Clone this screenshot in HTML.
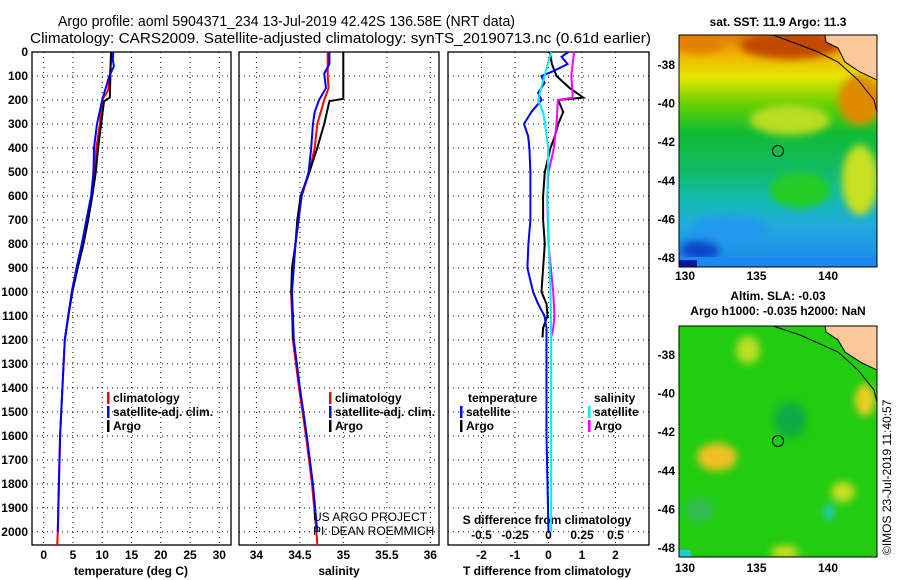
<!DOCTYPE html>
<html><head><meta charset="utf-8"><style>
body{margin:0;background:#fff;}
svg{display:block;font-family:"Liberation Sans",sans-serif;}
.tk{font-size:12px;font-weight:bold;fill:#000;}
</style></head><body>
<svg id="chart" width="900" height="580" viewBox="0 0 900 580">
<defs>
<linearGradient id="sstg" x1="0" y1="0" x2="0" y2="1">
<stop offset="0" stop-color="#e07a00"/><stop offset="0.08" stop-color="#f0b000"/><stop offset="0.18" stop-color="#e6e600"/>
<stop offset="0.3" stop-color="#66d000"/><stop offset="0.42" stop-color="#11bb33"/><stop offset="0.58" stop-color="#11bb66"/>
<stop offset="0.7" stop-color="#11bbaa"/><stop offset="0.82" stop-color="#22aadd"/><stop offset="1" stop-color="#1a88ee"/>
</linearGradient>
<filter id="blur"><feGaussianBlur stdDeviation="4"/></filter>
<clipPath id="c1"><rect x="679" y="35" width="198" height="232"/></clipPath>
<clipPath id="c2"><rect x="679" y="326" width="198" height="231"/></clipPath>
</defs>
<g id="titles">
<text x="58" y="26" font-size="15" textLength="457" lengthAdjust="spacingAndGlyphs">Argo profile: aoml 5904371_234 13-Jul-2019 42.42S 136.58E (NRT data)</text>
<text x="30" y="43" font-size="15" textLength="621" lengthAdjust="spacingAndGlyphs">Climatology: CARS2009. Satellite-adjusted climatology: synTS_20190713.nc (0.61d earlier)</text>
</g>
<g id="panels"></g>
<g id="maps">
<text x="778" y="26" font-size="12" font-weight="bold" text-anchor="middle">sat. SST: 11.9 Argo: 11.3</text>
<g clip-path="url(#c1)">
<rect x="679" y="35" width="198" height="232" fill="url(#sstg)"/>
<g filter="url(#blur)">
<ellipse cx="790" cy="45" rx="50" ry="14" fill="#c04800"/>
<ellipse cx="700" cy="45" rx="25" ry="8" fill="#e08000"/>
<ellipse cx="860" cy="100" rx="22" ry="25" fill="#e08a00"/>
<ellipse cx="860" cy="180" rx="18" ry="35" fill="#c8e020"/>
<ellipse cx="790" cy="120" rx="40" ry="15" fill="#bbdd22"/>
<ellipse cx="800" cy="190" rx="30" ry="18" fill="#22cc22"/>
<ellipse cx="700" cy="250" rx="20" ry="10" fill="#0a44cc"/>
<ellipse cx="730" cy="230" rx="40" ry="14" fill="#2299ee"/>
</g>
<rect x="679" y="257" width="198" height="10" fill="#1a88ee"/>
<rect x="679" y="260" width="18" height="7" fill="#001a99"/>
<polygon points="825,35 877,35 877,80 860,72 845,62 838,48 826,42" fill="#fbc898" stroke="#000" stroke-width="1"/>
<polyline points="773,35 800,45 818,52 838,62 858,80 874,100 877,112" fill="none" stroke="#000" stroke-width="1"/>
<circle cx="778" cy="151" r="5.5" fill="none" stroke="#000"/>
</g>
<rect x="679" y="35" width="198" height="232" fill="none" stroke="#000"/>
<text x="778" y="300" font-size="12" font-weight="bold" text-anchor="middle">Altim. SLA: -0.03</text>
<text x="778" y="315" font-size="12" font-weight="bold" text-anchor="middle">Argo h1000: -0.035 h2000: NaN</text>
<g clip-path="url(#c2)">
<rect x="679" y="326" width="198" height="231" fill="#22cc11"/>
<g filter="url(#blur)">
<ellipse cx="717" cy="457" rx="20" ry="14" fill="#f0c020"/>
<ellipse cx="748" cy="350" rx="12" ry="14" fill="#bbdd22"/>
<ellipse cx="865" cy="400" rx="10" ry="16" fill="#eecc22"/>
<ellipse cx="843" cy="492" rx="12" ry="10" fill="#ccdd22"/>
<ellipse cx="829" cy="512" rx="5" ry="8" fill="#22cccc"/>
<ellipse cx="785" cy="552" rx="14" ry="6" fill="#dddd22"/>
<ellipse cx="700" cy="510" rx="14" ry="12" fill="#33bb55"/>
<ellipse cx="790" cy="420" rx="16" ry="18" fill="#11aa44"/>
</g>
<rect x="679" y="550" width="12" height="7" fill="#22cccc"/>
<polygon points="825,326 877,326 877,370 862,363 845,352 838,340 826,332" fill="#fbc898" stroke="#000" stroke-width="1"/>
<polyline points="773,326 800,335 818,343 838,352 858,370 874,390 877,402" fill="none" stroke="#000" stroke-width="1"/>
<circle cx="778" cy="441" r="5.5" fill="none" stroke="#000"/>
</g>
<rect x="679" y="326" width="198" height="231" fill="none" stroke="#000"/>
<text transform="translate(891,555) rotate(-90)" font-size="12">©IMOS 23-Jul-2019 11:40:57</text>
</g>
</svg>
<script>
// ---- data ----
const depthTicks=[0,100,200,300,400,500,600,700,800,900,1000,1100,1200,1300,1400,1500,1600,1700,1800,1900,2000];
const tempTicks=[0,5,10,15,20,25,30];
const salTicks=[34,34.5,35,35.5,36];
const salTickLabels=["34","34.5","35","35.5","36"];
const tdiffTicks=[-2,-1,0,1,2];
const sdiffTickLabels=["-0.5","-0.25","0","0.25","0.5"];
const latTicks=[-38,-40,-42,-44,-46,-48];
const lonTicks=[130,135,140];

const tArgoDepth=[0,100,190,205,300,400,500,600,700,800,900,1000,1100,1200];
const tArgoVal=[11.5,11.4,11.3,10.3,9.8,9.3,8.9,8.3,7.6,6.8,5.8,4.9,4.2,3.6];
const tClimDepth=[0,100,160,200,300,400,500,600,700,800,900,1000,1200,1400,1600,1800,2000,2055];
const tClimVal=[11.6,11.3,11.0,10.0,9.6,9.0,8.7,8.2,7.4,6.6,5.7,4.8,3.6,3.2,2.8,2.6,2.4,2.3];
const tSatDepth=[0,30,60,100,150,200,300,400,500,600,700,800,900,1000,1200,1400,1600,1800,2000];
const tSatVal=[11.9,11.8,12.0,11.2,10.6,10.0,9.1,8.6,8.5,8.1,7.3,6.5,5.6,4.8,3.6,3.2,2.8,2.6,2.4];

const sArgoDepth=[0,195,205,300,350,400,500,600,700,800,900,1000,1100,1200];
const sArgoVal=[35.0,35.0,34.84,34.78,34.74,34.70,34.61,34.51,34.47,34.45,34.41,34.40,34.42,34.42];
const sClimDepth=[0,100,150,200,300,400,500,600,800,1000,1200,1400,1600,1800,2000,2055];
const sClimVal=[34.82,34.82,34.83,34.78,34.70,34.67,34.61,34.52,34.45,34.40,34.42,34.49,34.57,34.64,34.69,34.70];
const sSatDepth=[0,50,90,150,200,250,300,400,500,600,800,1000,1200,1400,1600,1800,2000];
const sSatVal=[34.84,34.84,34.78,34.80,34.72,34.67,34.65,34.63,34.60,34.52,34.45,34.41,34.43,34.50,34.58,34.65,34.70];

const dtSatDepth=[0,20,50,80,100,130,170,200,250,300,350,400,500,700,800,900,1000,1050,1100,1150,1200,1400,1600,1800,2000];
const dtSatVal=[0.59,0.39,0.57,0.14,-0.21,-0.12,-0.31,-0.21,-0.51,-0.73,-0.61,-0.57,-0.54,-0.54,-0.60,-0.63,-0.46,-0.31,-0.12,-0.06,-0.06,-0.06,-0.06,-0.03,0.0];
const dtArgoDepth=[0,50,100,150,190,200,250,300,350,400,500,600,700,800,900,1000,1050,1100,1150,1190];
const dtArgoVal=[0.04,0.1,0.24,0.63,1.04,0.29,0.44,0.29,0.19,0.06,-0.11,-0.16,-0.16,-0.11,-0.16,-0.21,-0.06,-0.03,-0.16,-0.18];
const dsSatDepth=[0,50,100,150,200,250,300,400,600,800,1000,1200,1400,1600,1800,2000];
const dsSatVal=[0.02,-0.005,-0.03,-0.055,-0.078,-0.04,-0.025,-0.002,-0.008,0.002,0.015,0.02,0.02,0.02,0.02,0.02];
const dsArgoDepth=[0,100,170,190,200,300,400,500,600,800,1000,1100,1150,1190];
const dsArgoVal=[0.19,0.17,0.18,0.18,0.07,0.06,0.04,0.0,-0.01,0.0,0.035,0.045,0.035,0.02];

// ---- layout ----
const svg=document.getElementById('chart');
const G=document.getElementById('panels');
const NS='http://www.w3.org/2000/svg';
const yTop=52,yBot=545,dMax=2055;
const yS=d=>yTop+(d/dMax)*(yBot-yTop);
function mk(tag,attrs,parent){const e=document.createElementNS(NS,tag);for(const k in attrs)e.setAttribute(k,attrs[k]);(parent||G).appendChild(e);return e;}
const panels=[
 {x0:32,x1:231,lo:-2,hi:32,name:'temperature-panel'},
 {x0:239,x1:439,lo:33.8,hi:36.1,name:'salinity-panel'},
 {x0:448,x1:649,lo:-3,hi:3,name:'difference-panel'}];
panels.forEach(p=>{p.x=v=>p.x0+(v-p.lo)/(p.hi-p.lo)*(p.x1-p.x0);});
const sx=v=>panels[2].x(v*4);

function grid(p,ticks){
 const g=mk('g',{});
 
 
 depthTicks.forEach(d=>{mk('line',{x1:p.x0,x2:p.x1,y1:yS(d),y2:yS(d),stroke:'#000','stroke-width':1,'stroke-dasharray':'1,4'},g);});
 ticks.forEach(t=>{mk('line',{x1:p.x(t),x2:p.x(t),y1:yTop,y2:yBot,stroke:'#000','stroke-width':1,'stroke-dasharray':'1,4'},g);});
 const r=mk('rect',{x:p.x0,y:yTop,width:p.x1-p.x0,height:yBot-yTop,fill:'none',stroke:'#000','stroke-width':1.3});
 
 
}
grid(panels[0],tempTicks);grid(panels[1],salTicks);grid(panels[2],tdiffTicks);

depthTicks.forEach(d=>{const t=mk('text',{x:28,y:yS(d)+4,'text-anchor':'end',class:'tk'});t.textContent=d;
 
 });
tempTicks.forEach(v=>{const t=mk('text',{x:panels[0].x(v),y:559,'text-anchor':'middle',class:'tk'});t.textContent=v;
 
 });
salTicks.forEach((v,i)=>{const t=mk('text',{x:panels[1].x(v),y:559,'text-anchor':'middle',class:'tk'});t.textContent=salTickLabels[i];
 
 });
tdiffTicks.forEach(v=>{const t=mk('text',{x:panels[2].x(v),y:559,'text-anchor':'middle',class:'tk'});t.textContent=v;
 
 });
tdiffTicks.forEach((v,i)=>{const t=mk('text',{x:panels[2].x(v),y:539,'text-anchor':'middle',class:'tk'});t.textContent=sdiffTickLabels[i];
 
 });
[[131,'temperature (deg C)','temperature-axis-title'],[339,'salinity','salinity-axis-title'],[547,'T difference from climatology','tdiff-axis-title'],[547,'S difference from climatology','sdiff-axis-title']].forEach((a,i)=>{
 const t=mk('text',{x:a[0],y:i==3?524:575,'text-anchor':'middle',class:'tk'});t.textContent=a[1];
 
 });

function line(xf,ds,vs,col,name,w){
 const pts=ds.map((d,i)=>xf(vs[i]).toFixed(1)+','+yS(d).toFixed(1)).join(' ');
 const l=mk('polyline',{points:pts,fill:'none',stroke:col,'stroke-width':w||2});
 
 
}
line(panels[0].x,tClimDepth,tClimVal,'#f00','temp-climatology-line');
line(panels[0].x,tArgoDepth,tArgoVal,'#000','temp-argo-line');
line(panels[0].x,tSatDepth,tSatVal,'#00f','temp-satellite-line');
line(panels[1].x,sClimDepth,sClimVal,'#f00','sal-climatology-line');
line(panels[1].x,sArgoDepth,sArgoVal,'#000','sal-argo-line');
line(panels[1].x,sSatDepth,sSatVal,'#00f','sal-satellite-line');
line(panels[2].x,dtArgoDepth,dtArgoVal,'#000','tdiff-argo-line');
line(sx,dsArgoDepth,dsArgoVal,'#f0f','sdiff-argo-line');
line(panels[2].x,dtSatDepth,dtSatVal,'#00f','tdiff-satellite-line');
line(sx,dsSatDepth,dsSatVal,'#0ee','sdiff-satellite-line');

function legend(x,y,col,label,name){
 const g=mk('g',{});
 
 
 mk('rect',{x:x,y:y-10,width:2.5,height:12,fill:col},g);
 const t=mk('text',{x:x+6,y:y,class:'tk'},g);t.textContent=label;
}
legend(107,402,'#f00','climatology','legend-climatology');
legend(107,416,'#00f','satellite-adj. clim.','legend-satellite-adj');
legend(107,430,'#000','Argo','legend-argo');
legend(329,402,'#f00','climatology','legend-sal-climatology');
legend(329,416,'#00f','satellite-adj. clim.','legend-sal-satellite-adj');
legend(329,430,'#000','Argo','legend-sal-argo');
legend(460,416,'#00f','satellite','legend-tdiff-satellite');
legend(460,430,'#000','Argo','legend-tdiff-argo');
legend(588,416,'#0ee','satellite','legend-sdiff-satellite');
legend(588,430,'#f0f','Argo','legend-sdiff-argo');
[[468,'temperature','legend-temp-heading'],[594,'salinity','legend-sal-heading']].forEach(a=>{const t=mk('text',{x:a[0],y:402,class:'tk'});t.textContent=a[1];
 
 });
[['US ARGO PROJECT',521],['PI: DEAN ROEMMICH',535]].forEach(a=>{const t=mk('text',{x:313,y:a[1],'font-size':12});t.textContent=a[0];
 
 });

// map axes
const maps=[{x0:679,x1:877,lat:v=>65+(-38-v)/10*193,top:35,bot:267,lonY:280,name:'sst'},
            {x0:679,x1:877,lat:v=>355+(-38-v)/10*193,top:326,bot:557,lonY:572,name:'sla'}];
const lonX=v=>685+(v-130)*14.3;
maps.forEach(m=>{
 latTicks.forEach(v=>{const y=m.lat(v);
  mk('line',{x1:m.x1,x2:m.x1-4,y1:y,y2:y,stroke:'#000'});mk('line',{x1:m.x0,x2:m.x0+4,y1:y,y2:y,stroke:'#000'});
  const t=mk('text',{x:675,y:y+4,'text-anchor':'end',class:'tk'});t.textContent=v;
  
  });
 lonTicks.forEach(v=>{const x=lonX(v);
  mk('line',{x1:x,x2:x,y1:m.bot,y2:m.bot-4,stroke:'#000'});mk('line',{x1:x,x2:x,y1:m.top,y2:m.top+4,stroke:'#000'});
  const t=mk('text',{x:x,y:m.lonY,'text-anchor':'middle',class:'tk'});t.textContent=v;
  
  });
});
</script>
</body></html>
